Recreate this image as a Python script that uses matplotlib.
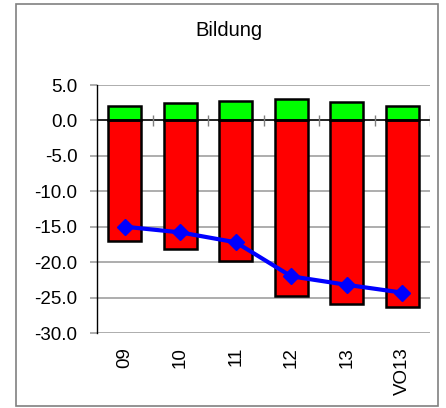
import matplotlib
matplotlib.use("Agg")
import matplotlib.pyplot as plt
from matplotlib.patches import Rectangle

categories = ["09", "10", "11", "12", "13", "VO13"]
green_vals = [2.0, 2.4, 2.7, 3.0, 2.6, 2.1]
red_vals = [-17.0, -18.2, -19.8, -24.8, -25.9, -26.3]
line_vals = [-15.0, -15.8, -17.2, -22.0, -23.2, -24.3]
yticks = [5.0, 0.0, -5.0, -10.0, -15.0, -20.0, -25.0, -30.0]
title = "Bildung"

plt.rcParams['font.family'] = ['Liberation Sans', 'DejaVu Sans']

fig = plt.figure(figsize=(4.46, 4.08), dpi=100)
fig.patches.append(Rectangle((16/446, 1-406/408), (438-16)/446, (406-4)/408,
                             transform=fig.transFigure, fill=False,
                             edgecolor='#808080', linewidth=1.2))
ax = fig.add_axes([97/446, 1-333/408, (430-97)/446, (333-85)/408])

x = list(range(len(categories)))
ax.set_xlim(-0.5, len(categories) - 0.5)
ax.set_ylim(-30, 5)

for yv in yticks:
    if yv != 0:
        ax.axhline(yv, color='#a0a0a0', linewidth=1.2, zorder=0)

ax.bar(x, red_vals, width=0.6, color='#ff0000', edgecolor='black', linewidth=1.8, zorder=2)
ax.bar(x, green_vals, width=0.6, color='#00ff00', edgecolor='black', linewidth=1.8, zorder=2)
ax.axhline(0, color='black', linewidth=1.2, zorder=3)
ax.vlines([i + 0.5 for i in x], -0.8, 0.8, color='#808080', linewidth=1.0, zorder=3)
ax.plot(x, line_vals, color='#0000ff', linewidth=3, marker='D', markersize=8, zorder=4)

for s in ['top', 'right', 'bottom']:
    ax.spines[s].set_visible(False)
ax.spines['left'].set_color('black')
ax.spines['left'].set_linewidth(1.0)

ax.set_yticks(yticks)
ax.set_yticklabels([f"{v:.1f}" for v in yticks], fontsize=13.5)
ax.tick_params(axis='y', length=5, width=1.2, color='#a0a0a0', pad=9)
ax.set_xticks(x)
ax.set_xticklabels(categories, rotation=90, fontsize=13.5)
ax.tick_params(axis='x', length=0, pad=10)

fig.text(229/446, 1-31/408, title, ha='center', va='center', fontsize=14.5)

fig.savefig("out.png", dpi=100)
